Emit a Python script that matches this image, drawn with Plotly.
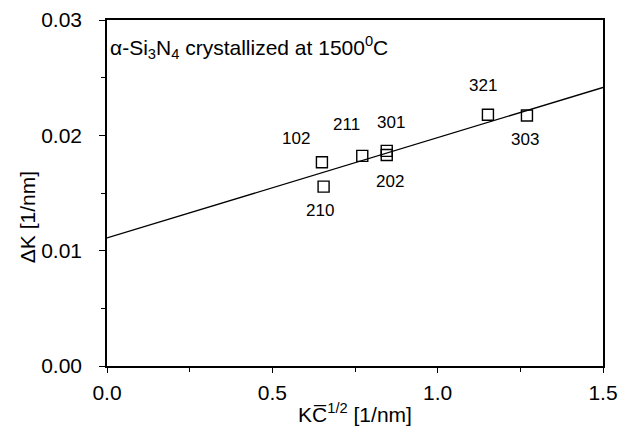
import plotly.graph_objects as go

# Data
reflections = ["102", "210", "211", "301", "202", "321", "303"]
k_c_half = [0.650, 0.655, 0.772, 0.846, 0.846, 1.152, 1.270]
delta_k = [0.01767, 0.01555, 0.01822, 0.01865, 0.01830, 0.02178, 0.02172]
# label offsets (pixels) relative to the marker
label_dx = [-26, -4, -16, 4, 3, -5, -2]
label_dy = [-24, 24, -31, -28, 27, -29, 24]

fit_intercept = 0.0111
fit_slope = 0.0087
x_range = [0.0, 1.5]
y_range = [0.0, 0.03]

font_family = "Liberation Sans, Arial, sans-serif"

fig = go.Figure()

fit_x = x_range
fit_y = [fit_intercept + fit_slope * v for v in fit_x]
fig.add_trace(go.Scatter(x=fit_x, y=fit_y, mode="lines",
                         line=dict(color="black", width=1.3),
                         showlegend=False, hoverinfo="skip"))

fig.add_trace(go.Scatter(x=k_c_half, y=delta_k, mode="markers",
                         marker=dict(symbol="square-open", size=11,
                                     color="black", line=dict(width=1.4)),
                         showlegend=False))

for name, xv, yv, dx, dy in zip(reflections, k_c_half, delta_k, label_dx, label_dy):
    fig.add_annotation(x=xv, y=yv, text=name, showarrow=False,
                       xshift=dx, yshift=-dy,
                       font=dict(size=17, color="black", family=font_family),
                       xanchor="center", yanchor="middle")

fig.add_annotation(x=0.0, y=1.0, xref="paper", yref="paper",
                   text="α-Si<sub>3</sub>N<sub>4</sub> crystallized at 1500<sup>0</sup>C",
                   showarrow=False, xanchor="left", yanchor="top", xshift=1, yshift=-11,
                   font=dict(size=21, color="black", family=font_family))

fig.add_annotation(x=0, y=0.43, xref="paper", yref="paper",
                   text="ΔK [1/nm]", textangle=-90, showarrow=False,
                   xanchor="center", yanchor="middle", xshift=-80,
                   font=dict(size=21, color="black", family=font_family))

axis_common = dict(showgrid=False, zeroline=False, showline=True, linecolor="black",
                   linewidth=1.5, mirror=True, ticks="outside",
                   tickwidth=1.2, tickcolor="black",
                   tickfont=dict(size=21, color="black", family=font_family))

fig.update_xaxes(range=x_range, dtick=0.5, tickformat=".1f", ticklen=5, ticklabelstandoff=2,
                 minor=dict(dtick=0.25, ticks="outside", ticklen=4, tickcolor="black", tickwidth=1),
                 title=dict(text="KC\u0305<sup>1/2</sup> [1/nm]", standoff=4,
                            font=dict(size=21, color="black", family=font_family)),
                 **axis_common)
fig.update_yaxes(range=y_range, dtick=0.01, tickformat=".2f", ticklen=6, ticklabelstandoff=13,
                 minor=dict(dtick=0.005, ticks="outside", ticklen=4, tickcolor="black", tickwidth=1),
                 **axis_common)

# the page body has an 8px margin, so the figure is sized and offset to compensate
fig.update_layout(width=628, height=428, plot_bgcolor="white", paper_bgcolor="white",
                  margin=dict(l=99, r=33, t=12, b=70, autoexpand=False),
                  font=dict(family=font_family, color="black"))

fig.write_html("out.html")
